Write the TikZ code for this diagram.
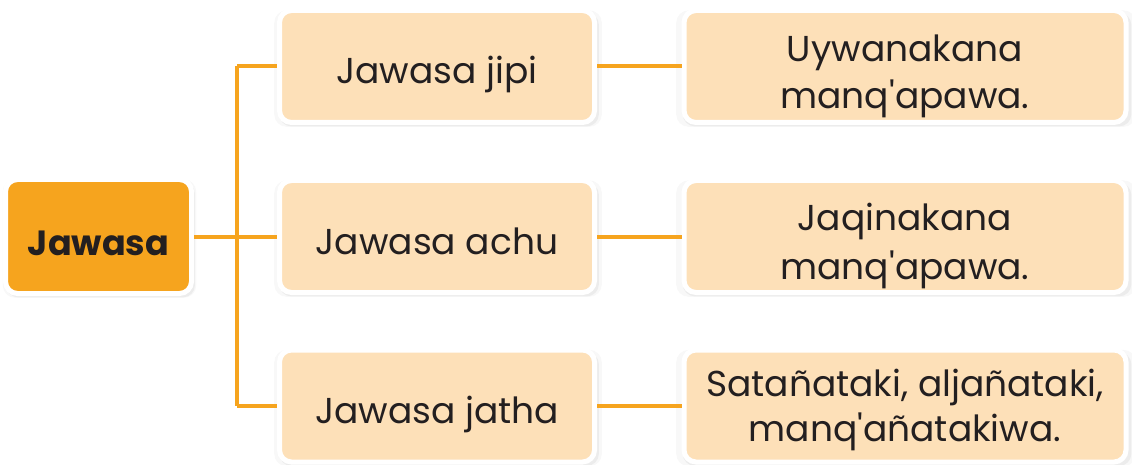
\documentclass[tikz,border=0pt]{standalone}
\usepackage{fontspec}
\setmainfont{Poppins}[Ligatures=TeXOff]
\usetikzlibrary{shadows}
\definecolor{naranja}{HTML}{F6A41E}
\definecolor{crema}{HTML}{FDE0B8}
\definecolor{tinta}{HTML}{231F20}
\newcommand{\arriba}[1]{\rule{0pt}{#1}}
\newcommand{\abajo}{\rule[-10pt]{0pt}{10pt}}

\begin{document}
\begin{tikzpicture}[x=1pt,y=-1pt,
    caja/.style={draw=white, line width=5pt, rounded corners=12pt, fill=crema, text=tinta,
      align=center, inner sep=0pt, font=\fontsize{36}{36}\selectfont,
      drop shadow={opacity=0.06, shadow xshift=1pt, shadow yshift=-2pt, shadow scale=1.04},
      drop shadow={opacity=0.10, shadow xshift=2pt, shadow yshift=-3pt, shadow scale=1.015}},
    medio/.style={caja, minimum width=315pt, minimum height=112pt, text height=40pt, text depth=5pt},
    lado/.style={caja, minimum width=442pt, minimum height=112pt},
    linea/.style={draw=naranja, line width=4pt}]
  \useasboundingbox (0,0) rectangle (1132,465);
  % caja principal
  \node[caja, fill=naranja, minimum width=186pt, minimum height=114pt, text height=41pt, text depth=4pt,
    font=\fontsize{35}{36}\selectfont\bfseries] (jawasa) at (98.5,236.5) {Jawasa};
  % tres clases
  \node[medio] (jipi) at (437,66.5) {Jawasa jipi};
  \node[medio] (achu) at (437,236.5) {Jawasa achu};
  \node[medio] (jatha) at (437,406) {Jawasa jatha};
  % descripciones
  \node[lado] (uywa) at (905,66.5) {\arriba{47pt}Uywanakana\\[9pt]manq'apawa.\abajo};
  \node[lado] (jaqi) at (905,236.5) {\arriba{47pt}Jaqinakana\\[9pt]manq'apawa.\abajo};
  \node[lado] (sata) at (905,406) {\arriba{36pt}Satañataki, aljañataki,\\[6pt]manq'añatakiwa.\abajo};
  % lineas
  \coordinate (tronco) at (237,236.5);
  \draw[linea] (jawasa.east) -- (tronco);
  \draw[linea] (jipi.west -| tronco) -- (jatha.west -| tronco);
  \draw[linea] (jipi.west -| tronco) -- (jipi.west);
  \draw[linea] (tronco) -- (achu.west);
  \draw[linea] (jatha.west -| tronco) -- (jatha.west);
  \draw[linea] (jipi.east) -- (uywa.west);
  \draw[linea] (achu.east) -- (jaqi.west);
  \draw[linea] (jatha.east) -- (sata.west);
\end{tikzpicture}
\end{document}
